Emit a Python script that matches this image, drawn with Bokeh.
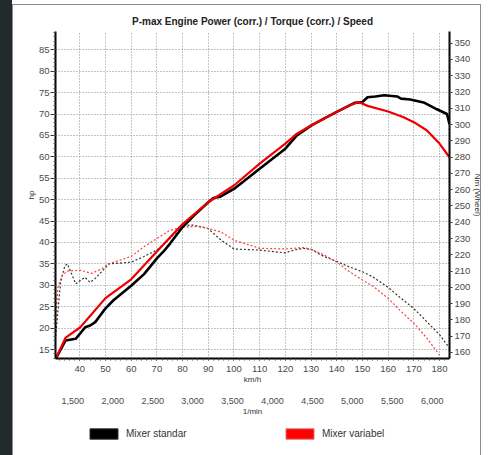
from bokeh.plotting import figure
from bokeh.models import (Range1d, LinearAxis, FixedTicker, NumeralTickFormatter,
                          Legend, LegendItem, ColumnDataSource)
from bokeh.layouts import column
from bokeh.embed import file_html
from bokeh.resources import INLINE

# ---------------- data ----------------
title_text = "P-max Engine Power (corr.) / Torque (corr.) / Speed"
series_names = ["Mixer standar", "Mixer variabel"]
series_colors = ["black", "#ff0000"]

# Power (hp) vs speed (km/h)
std_power_kmh = [30.6, 34.4, 38.4, 40.2, 42.1, 44, 46, 48, 50, 53.1, 60, 65, 70, 72.6, 75.2, 80, 84.4,
                 90, 92, 94.7, 100, 110, 120, 124.5, 130, 135, 140, 145, 147, 150, 152, 155, 158.5,
                 163.5, 165, 168.6, 173.8, 179, 182.9, 183.9]
std_power_hp = [12.8, 17.1, 17.5, 18.8, 20.2, 20.6, 21.4, 23.0, 24.6, 26.5, 29.9, 32.6, 36.3, 37.9, 39.8,
                43.6, 46.3, 49.4, 50.4, 50.7, 52.5, 57.2, 61.9, 65.0, 67.3, 68.9, 70.5, 72.0, 72.6, 72.8,
                73.9, 74.1, 74.4, 74.1, 73.6, 73.4, 72.7, 71.1, 70.0, 67.6]

var_power_kmh = [30.6, 34.4, 40.2, 50, 60, 70, 80, 90, 100, 110, 120, 124.5, 130, 135, 140, 145, 148.5,
                 152, 160, 165.8, 170, 175, 180, 183.9]
var_power_hp = [12.8, 17.7, 20.2, 27.0, 31.4, 37.9, 44.3, 49.4, 53.3, 58.4, 63.1, 65.4, 67.3, 68.9, 70.5,
                72.0, 72.8, 71.9, 70.6, 69.3, 68.1, 66.2, 63.1, 59.9]

# Torque (Nm at wheel) vs speed (km/h)
std_torque_kmh = [30.6, 32.5, 34.2, 35.2, 38.4, 42, 44, 46, 49, 51.3, 60, 65, 70, 75, 80, 84, 90, 95, 100,
                  110, 120, 123.5, 127, 130, 135, 140, 145, 150, 154, 160, 164.5, 170, 175, 180, 183.5]
std_torque_nm = [170, 203, 213.4, 214.4, 202.2, 206.2, 203.1, 205.5, 210.5, 214.4, 215.5, 219, 223, 230,
                 238, 238.3, 236, 229, 223.6, 222.9, 221.2, 223, 224, 223.4, 219, 216, 212.5, 209.6,
                 206.5, 200, 194, 187, 179, 171, 163.5]

var_torque_kmh = [30.6, 31.5, 33, 35, 40.2, 44.7, 48.6, 51.3, 60, 65, 70, 75, 80, 87, 95, 100, 110, 120,
                  127, 130, 135, 140, 145, 150, 154, 160, 164.5, 170, 175, 180]
var_torque_nm = [180, 200, 207, 210, 210.5, 208.6, 211.5, 214.5, 219, 225, 230, 235, 237, 237.5, 234,
                 229, 224, 223.6, 224.5, 223.4, 220, 215.5, 209.6, 204.5, 200.8, 193.3, 186, 178, 169,
                 158.4]

kmh_ticks = [40, 50, 60, 70, 80, 90, 100, 110, 120, 130, 140, 150, 160, 170, 180]
hp_ticks = [15, 20, 25, 30, 35, 40, 45, 50, 55, 60, 65, 70, 75, 80, 85]
nm_ticks = list(range(160, 351, 10))
rpm_ticks = [1500, 2000, 2500, 3000, 3500, 4000, 4500, 5000, 5500, 6000]

# ---------------- styling helpers ----------------
LABEL_FONT = "Liberation Sans"
GRID = "#8a8a8a"
TICK_COLOR = "#4a4a4a"
FRAME_BG = ("linear-gradient(#232a2b,#232a2b) 0 0/12px 100% no-repeat, "
            "linear-gradient(#8c8c8c,#8c8c8c) 12px {top}px/1px 100% no-repeat, "
            "linear-gradient(#8c8c8c,#8c8c8c) 12px {top}px/469px {th}px no-repeat, "
            "linear-gradient(#8c8c8c,#8c8c8c) 480px {top}px/1px 100% no-repeat, white")

# ---------------- main chart ----------------
p = figure(width=489, height=418, output_backend="svg", toolbar_location=None,
           x_range=Range1d(30.54, 183.89), y_range=Range1d(12.90, 89.27),
           min_border_left=55, min_border_right=40, min_border_top=31, min_border_bottom=60,
           x_axis_location=None, y_axis_location=None)
p.outline_line_color = None
p.background_fill_color = "white"
p.border_fill_alpha = 0
p.styles = {"background": FRAME_BG.format(top=4, th=1)}

p.title.text = title_text
p.title.align = "center"
p.title.text_font = LABEL_FONT
p.title.text_font_size = "10px"
p.title.text_font_style = "bold"
p.title.text_color = "#222222"
p.title.standoff = 10

p.extra_y_ranges = {"nm": Range1d(156.31, 357.19)}
p.extra_x_ranges = {"rpm": Range1d(1283.4, 6216.6)}


def style_axis(ax, size="9.5px"):
    ax.major_label_text_font = LABEL_FONT
    ax.major_label_text_font_size = size
    ax.major_label_text_color = TICK_COLOR
    ax.axis_label_text_font = LABEL_FONT
    ax.axis_label_text_font_size = "8px"
    ax.axis_label_text_font_style = "normal"
    ax.axis_label_text_color = "#333333"
    ax.axis_line_color = "black"
    ax.axis_line_width = 2
    ax.major_tick_line_color = "#333333"
    ax.minor_tick_line_color = "#555555"
    ax.major_tick_in = 0
    ax.minor_tick_in = 0


yl = LinearAxis(axis_label="hp", ticker=FixedTicker(ticks=hp_ticks, minor_ticks=list(range(13, 90))))
style_axis(yl)
yl.major_tick_out = 5
yl.minor_tick_out = 2
yl.major_label_standoff = 1
yl.axis_label_standoff = 0
p.add_layout(yl, "left")

yr = LinearAxis(y_range_name="nm", axis_label="Nm (Wheel)",
                ticker=FixedTicker(ticks=nm_ticks, minor_ticks=list(range(158, 358, 2))))
style_axis(yr)
yr.major_tick_out = 3
yr.minor_tick_out = 1
yr.major_label_standoff = 2
yr.axis_label_standoff = 0
p.add_layout(yr, "right")

xb = LinearAxis(axis_label="km/h", ticker=FixedTicker(ticks=kmh_ticks, minor_ticks=list(range(32, 184, 2))))
style_axis(xb)
xb.major_tick_out = 2
xb.minor_tick_out = 2
xb.major_label_standoff = 5
xb.axis_label_standoff = 0
p.add_layout(xb, "below")

xr = LinearAxis(x_range_name="rpm", axis_label="1/min", ticker=FixedTicker(ticks=rpm_ticks),
                formatter=NumeralTickFormatter(format="0,0"))
style_axis(xr, "9px")
xr.axis_line_color = None
xr.major_tick_line_color = None
xr.minor_tick_line_color = None
xr.major_label_standoff = 5
xr.axis_label_standoff = 0
p.add_layout(xr, "below")

p.xgrid.ticker = FixedTicker(ticks=kmh_ticks)
p.ygrid.ticker = FixedTicker(ticks=hp_ticks)
for g in (p.xgrid, p.ygrid):
    g.grid_line_color = GRID
    g.grid_line_dash = "1 2"
    g.grid_line_width = 1

p.line(std_torque_kmh, std_torque_nm, y_range_name="nm", line_color="#333333",
       line_dash="2 2", line_width=1.2)
p.line(var_torque_kmh, var_torque_nm, y_range_name="nm", line_color="#ff4040",
       line_dash="2 2", line_width=1.2)
p.line(std_power_kmh, std_power_hp, line_color="black", line_width=2.6)
p.line(var_power_kmh, var_power_hp, line_color="#ee0000", line_width=2.2)

# ---------------- legend strip ----------------
lf = figure(width=489, height=37, output_backend="svg", toolbar_location=None,
            x_range=Range1d(0, 1), y_range=Range1d(0, 1),
            min_border=0, x_axis_location=None, y_axis_location=None)
lf.outline_line_color = None
lf.background_fill_alpha = 0
lf.border_fill_alpha = 0
lf.xgrid.visible = False
lf.ygrid.visible = False
lf.styles = {"background": FRAME_BG.format(top=0, th=0)}

nan = float("nan")
items = []
for name, col, edge in zip(series_names, series_colors, ["#333333", "#e07070"]):
    src = ColumnDataSource(data=dict(l=[nan], r=[nan], t=[nan], b=[nan]))
    rr = lf.quad(left="l", right="r", top="t", bottom="b", source=src,
                 fill_color=col, line_color=edge, line_width=1)
    items.append(LegendItem(label=name, renderers=[rr]))

legend = Legend(items=items, orientation="horizontal", location=(31, 15),
                glyph_width=35, glyph_height=13, spacing=69, padding=0, margin=0,
                label_width=87, label_standoff=5, label_text_font=LABEL_FONT,
                label_text_font_size="10px", label_text_color="#333333",
                border_line_color=None, background_fill_alpha=0)
lf.add_layout(legend, "center")

layout = column(p, lf, spacing=0)

open("out.html", "w").write(file_html(layout, INLINE))
